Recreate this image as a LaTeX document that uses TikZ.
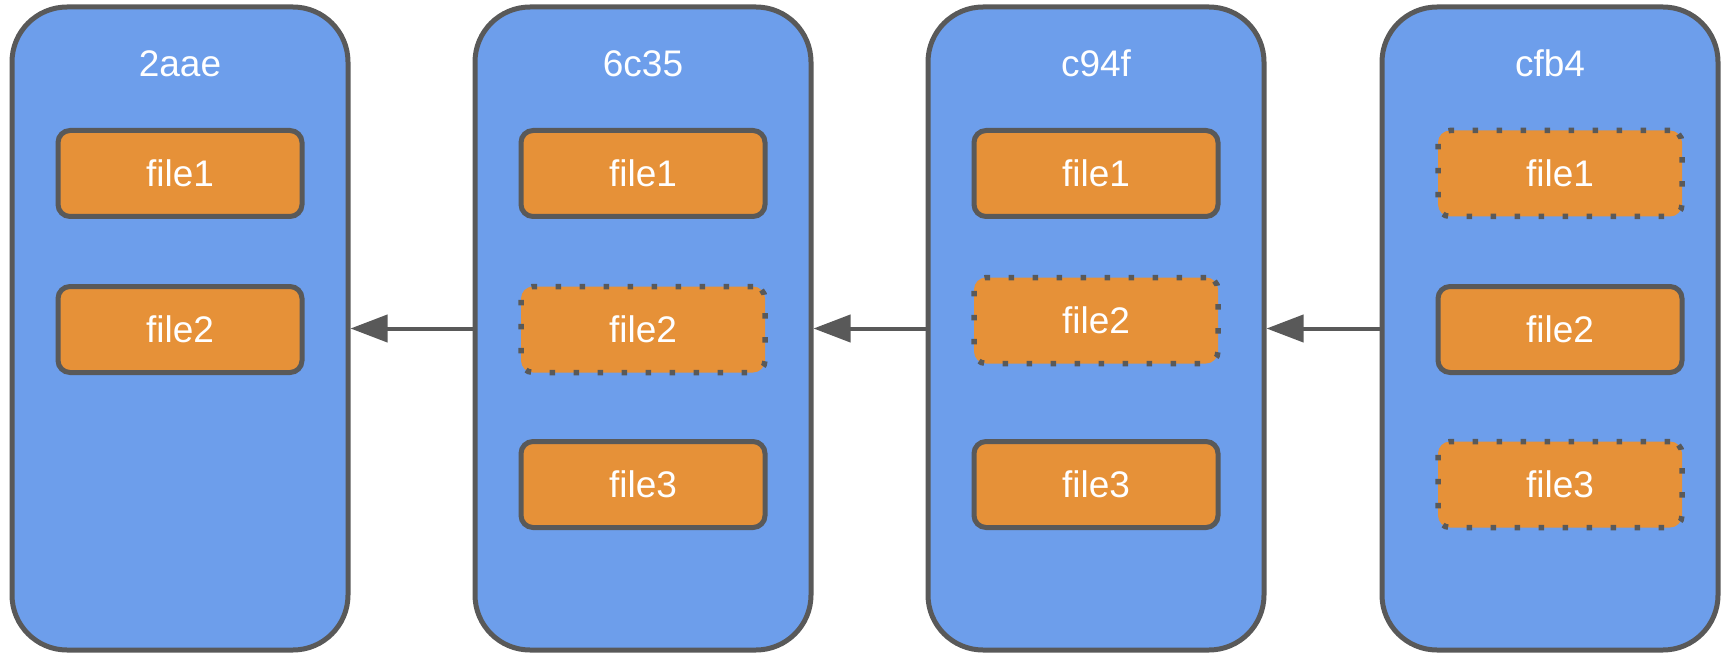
\documentclass[tikz,border=0pt]{standalone}
\usepackage{fontspec}
\setmainfont{Liberation Sans}
\usetikzlibrary{arrows.meta}
\definecolor{cblue}{HTML}{6D9EEB}
\definecolor{corange}{HTML}{E69138}
\definecolor{cgray}{HTML}{595959}
\tikzset{
  commit/.style={draw=cgray, fill=cblue, line width=5pt, rounded corners=55pt,
    minimum width=336pt, minimum height=643pt, inner sep=0pt},
  title/.style={text=white, anchor=base, inner sep=0pt, font=\fontsize{37}{44}\selectfont},
  filebox/.style={draw=cgray, fill=corange, line width=5pt, rounded corners=12pt,
    minimum width=244pt, minimum height=86pt, inner sep=0pt, text=white,
    font=\fontsize{37}{44}\selectfont},
  ghost/.style={filebox, line width=5.5pt, line cap=butt, dash pattern=on 5.5pt off 18.5pt},
  parent/.style={draw=cgray, line width=4pt, -{Triangle[length=37pt,width=27pt]}}
}
\begin{document}
\begin{tikzpicture}[x=1pt,y=-1pt]
\useasboundingbox (0,0) rectangle (1729,655);
% commits
\node[commit] (c1) at (180,328.5) {};
\node[commit] (c2) at (643,328.5) {};
\node[commit] (c3) at (1096,328.5) {};
\node[commit] (c4) at (1550,328.5) {};
% titles
\node[title] (t1) at (180,77) {2aae};
\node[title] (t2) at (643,77) {6c35};
\node[title] (t3) at (1096,77) {c94f};
\node[title] (t4) at (1550,77) {cfb4};
% files commit 1
\node[filebox] (f11) at (180,173.5) {file1};
\node[filebox] (f12) at (180,329.5) {file2};
% files commit 2
\node[filebox] (f21) at (643,173.5) {file1};
\node[ghost]   (f22) at (643,329.5) {file2};
\node[filebox] (f23) at (643,484.5) {file3};
% files commit 3
\node[filebox] (f31) at (1096,173.5) {file1};
\node[ghost]   (f32) at (1096,320.5) {file2};
\node[filebox] (f33) at (1096,484.5) {file3};
% files commit 4
\node[ghost]   (f41) at (1560,173.5) {file1};
\node[filebox] (f42) at (1560,329.5) {file2};
\node[ghost]   (f43) at (1560,484.5) {file3};
% parent arrows
\draw[parent] (c2.west) -- (c1.east);
\draw[parent] (c3.west) -- (c2.east);
\draw[parent] (c4.west) -- (c3.east);
\end{tikzpicture}
\end{document}
